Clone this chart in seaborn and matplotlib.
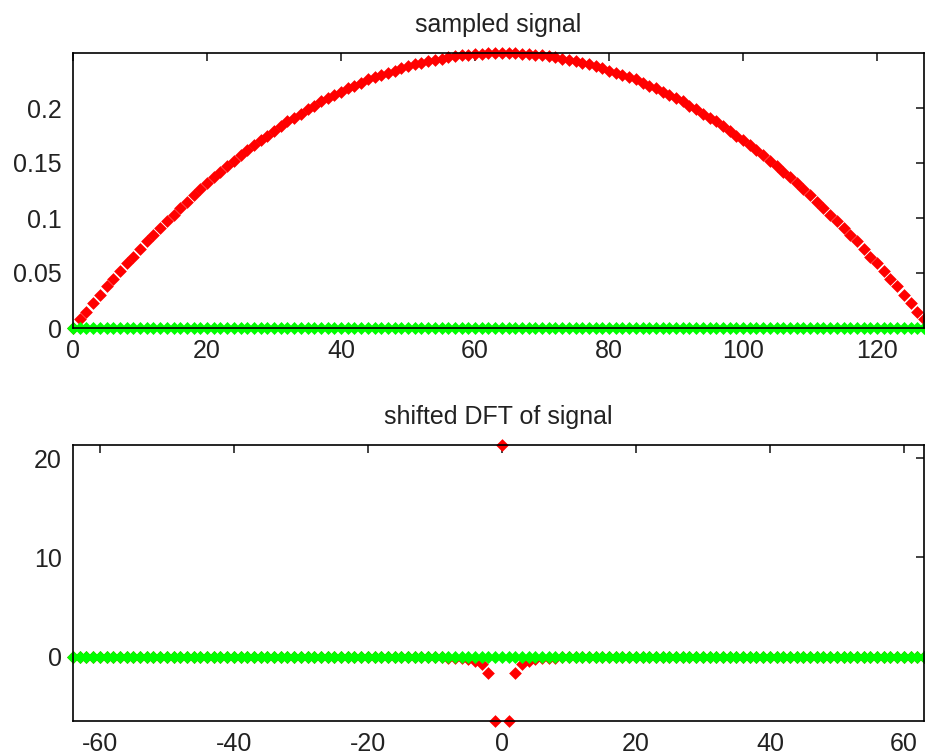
import seaborn as sns
import matplotlib
matplotlib.use('Agg')
import matplotlib.pyplot as plt
from matplotlib.ticker import FuncFormatter

# sample index and sampled signal
sample_n = list(range(0, 128))
signal_re = [
    0.000, 0.008, 0.015, 0.023, 0.030, 0.038, 0.045, 0.052, 0.059, 0.065, 0.072, 0.079, 0.085, 0.091, 0.097, 0.103,
    0.109, 0.115, 0.121, 0.126, 0.132, 0.137, 0.142, 0.147, 0.152, 0.157, 0.162, 0.166, 0.171, 0.175, 0.179, 0.184,
    0.188, 0.191, 0.195, 0.199, 0.202, 0.206, 0.209, 0.212, 0.215, 0.218, 0.220, 0.223, 0.226, 0.228, 0.230, 0.232,
    0.234, 0.236, 0.238, 0.240, 0.241, 0.243, 0.244, 0.245, 0.246, 0.247, 0.248, 0.248, 0.249, 0.249, 0.250, 0.250,
    0.250, 0.250, 0.250, 0.249, 0.249, 0.248, 0.248, 0.247, 0.246, 0.245, 0.244, 0.243, 0.241, 0.240, 0.238, 0.236,
    0.234, 0.232, 0.230, 0.228, 0.226, 0.223, 0.220, 0.218, 0.215, 0.212, 0.209, 0.206, 0.202, 0.199, 0.195, 0.191,
    0.188, 0.184, 0.179, 0.175, 0.171, 0.166, 0.162, 0.157, 0.152, 0.147, 0.142, 0.137, 0.132, 0.126, 0.121, 0.115,
    0.109, 0.103, 0.097, 0.091, 0.085, 0.079, 0.072, 0.065, 0.059, 0.052, 0.045, 0.038, 0.030, 0.023, 0.015, 0.008,
]
signal_im = [0.0] * 128

# shifted frequency index and DFT
freq_k = list(range(-64, 64))
dft_re = ([0.0] * 52
          + [-0.045, -0.054, -0.065, -0.08, -0.10, -0.13, -0.18, -0.26, -0.41, -0.72, -1.62, -6.48,
             21.33,
             -6.48, -1.62, -0.72, -0.41, -0.26, -0.18, -0.13, -0.10, -0.08, -0.065, -0.054, -0.045]
          + [0.0] * 51)
dft_im = [0.0] * 128

sns.set_style('white')
plt.rcParams['font.family'] = ['Liberation Sans', 'DejaVu Sans']
plt.rcParams['axes.unicode_minus'] = False

W, H = 925, 755
fig = plt.figure(figsize=(W / 100, H / 100), dpi=100)

def px_axes(left, top, right, bottom):
    return fig.add_axes([left / W, 1 - bottom / H, (right - left) / W, (bottom - top) / H])

ax1 = px_axes(73, 53, 924, 328)
ax2 = px_axes(73, 445, 924, 721)

# markers sit under the axes box, like the original
red_mk = dict(marker='D', s=42, linewidth=0, clip_on=False, zorder=2, color='#ff0000')
green_mk = dict(marker='D', s=44, linewidth=0, clip_on=False, zorder=2, color='#00ff00')

sns.scatterplot(x=sample_n, y=signal_re, ax=ax1, **red_mk)
sns.scatterplot(x=sample_n, y=signal_im, ax=ax1, **green_mk)
sns.scatterplot(x=freq_k, y=dft_re, ax=ax2, **red_mk)
sns.scatterplot(x=freq_k, y=dft_im, ax=ax2, **green_mk)

ax1.set_xlim(0, 127)
ax1.set_ylim(0, 0.25)
ax1.set_xticks([0, 20, 40, 60, 80, 100, 120])
ax1.set_yticks([0, 0.05, 0.1, 0.15, 0.2])
ax1.set_title('sampled signal', fontsize=18, pad=15, color='#222222')

ax2.set_xlim(-64, 63)
ax2.set_ylim(min(dft_re), max(dft_re))
ax2.set_xticks([-60, -40, -20, 0, 20, 40, 60])
ax2.set_yticks([0, 10, 20])
ax2.set_title('shifted DFT of signal', fontsize=18, pad=15, color='#222222')

for ax in (ax1, ax2):
    ax.yaxis.set_major_formatter(FuncFormatter(lambda v, p: '%g' % v))
    ax.tick_params(direction='in', length=6, width=1.2, top=True, right=True,
                   labelsize=18, colors='#222222', pad=8)
    for sp in ax.spines.values():
        sp.set_visible(True)
        sp.set_color('black')
        sp.set_linewidth(1.2)
    ax.set_xlabel('')
    ax.set_ylabel('')

fig.savefig('out.png', dpi=100)
